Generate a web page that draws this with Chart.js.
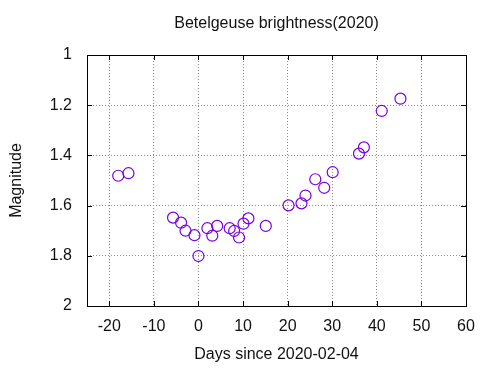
<!DOCTYPE html>
<html>
<head>
<meta charset="utf-8">
<script src="https://cdn.jsdelivr.net/npm/chart.js@4"></script>
<style>
  html, body { margin: 0; padding: 0; background: #fff; }
  #wrap { width: 500px; height: 369px; }
</style>
</head>
<body>
<div id="wrap"><canvas id="chart"></canvas></div>
<script>
// Podaci: dani od 2020-02-04 i magnituda
const days = [-18.0, -15.7, -5.7, -3.9, -2.9, -0.9, 0.0, 2.0, 3.1, 4.2, 7.0, 8.0, 9.1, 10.1, 11.2, 15.1,
              20.2, 23.1, 24.0, 26.2, 28.2, 30.1, 36.0, 37.1, 41.1, 45.3];
const magnitude = [1.481, 1.471, 1.648, 1.668, 1.700, 1.718, 1.801, 1.690, 1.720, 1.681, 1.690, 1.701, 1.727, 1.672, 1.651, 1.681,
                   1.599, 1.591, 1.560, 1.495, 1.529, 1.467, 1.393, 1.368, 1.223, 1.174];
const xTicks = [-20, -10, 0, 10, 20, 30, 40, 50, 60];
const yTicks = [1, 1.2, 1.4, 1.6, 1.8, 2];
const yTickLabels = ['1', '1.2', '1.4', '1.6', '1.8', '2'];

const FONT = "'Liberation Sans', Arial, sans-serif";
const points = days.map((d, i) => ({ x: d, y: magnitude[i] }));

// Okvir, unutrasnje crtice i naslov (gnuplot stil)
const framePlugin = {
  id: 'frame',
  afterDraw(chart) {
    const { ctx, chartArea: a, scales } = chart;
    ctx.save();
    ctx.strokeStyle = '#000';
    ctx.lineWidth = 1;
    ctx.strokeRect(Math.round(a.left) + 0.5, Math.round(a.top) + 0.5,
                   Math.round(a.right - a.left), Math.round(a.bottom - a.top));
    ctx.beginPath();
    xTicks.forEach(v => {
      const px = Math.round(scales.x.getPixelForValue(v)) + 0.5;
      ctx.moveTo(px, a.bottom); ctx.lineTo(px, a.bottom - 5);
      ctx.moveTo(px, a.top); ctx.lineTo(px, a.top + 5);
    });
    yTicks.forEach(v => {
      const py = Math.round(scales.y.getPixelForValue(v)) + 0.5;
      ctx.moveTo(a.left, py); ctx.lineTo(a.left + 5, py);
      ctx.moveTo(a.right, py); ctx.lineTo(a.right - 5, py);
    });
    ctx.stroke();
    ctx.fillStyle = '#111';
    ctx.font = '16px ' + FONT;
    ctx.textAlign = 'center';
    ctx.textBaseline = 'middle';
    ctx.fillText('Betelgeuse brightness(2020)', (a.left + a.right) / 2, 24);
    ctx.restore();
  }
};

new Chart(document.getElementById('chart'), {
  type: 'scatter',
  data: {
    datasets: [{
      data: points,
      pointStyle: 'circle',
      pointRadius: 5.5,
      pointHoverRadius: 5.5,
      borderColor: '#7a00dd',
      backgroundColor: 'rgba(0,0,0,0)',
      borderWidth: 1.2
    }]
  },
  options: {
    responsive: true,
    maintainAspectRatio: false,
    animation: false,
    layout: { padding: { top: 55, right: 34, left: 0, bottom: 0 } },
    plugins: {
      legend: { display: false },
      tooltip: { enabled: false }
    },
    scales: {
      x: {
        type: 'linear',
        min: -25,
        max: 60,
        afterBuildTicks: s => { s.ticks = xTicks.map(v => ({ value: v })); },
        afterFit: s => { s.height = 63; },
        grid: { color: '#8c8c8c', drawTicks: false, lineWidth: 1 },
        border: { display: false, dash: [1, 2] },
        ticks: { color: '#111', font: { family: FONT, size: 16 }, padding: 11, maxRotation: 0 },
        title: { display: true, text: 'Days since 2020-02-04', color: '#111',
                 font: { family: FONT, size: 16 }, padding: { top: 0, bottom: 5 } }
      },
      y: {
        type: 'linear',
        reverse: true,
        min: 1,
        max: 2,
        afterBuildTicks: s => { s.ticks = yTicks.map(v => ({ value: v })); },
        afterFit: s => { s.width = 87; },
        grid: { color: '#8c8c8c', drawTicks: false, lineWidth: 1 },
        border: { display: false, dash: [1, 2] },
        ticks: { color: '#111', font: { family: FONT, size: 16 }, padding: 15,
                 callback: (v, i) => yTickLabels[i] },
        title: { display: true, text: 'Magnitude', color: '#111',
                 font: { family: FONT, size: 16 }, padding: { top: 7, bottom: 0 } }
      }
    }
  },
  plugins: [framePlugin]
});
</script>
</body>
</html>
